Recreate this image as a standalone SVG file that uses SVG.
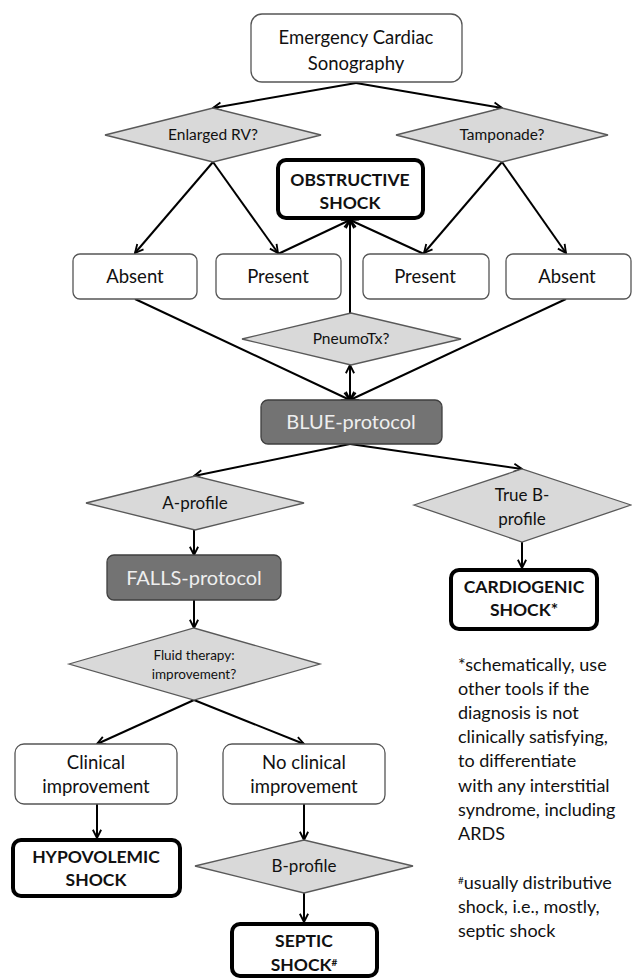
<svg xmlns="http://www.w3.org/2000/svg" width="632" height="980" viewBox="0 0 632 980">
<style>
text{font-family:Lato,"Open Sans","Noto Sans",sans-serif;text-anchor:middle;fill:#111}
.box{fill:#fff;stroke:#555;stroke-width:1.3}
.dia{fill:#d9d9d9;stroke:#595959;stroke-width:1.3}
.dark{fill:#737373;stroke:#3f3f3f;stroke-width:1.3}
.thick{fill:#fff;stroke:#000;stroke-width:4}
.t{font-size:18.5px}
.p{font-size:17px}
.d{font-size:15.5px}
.dt{font-size:20px;fill:#eeeeee}
.b{font-size:17.5px;font-weight:bold}
.note{font-size:18px;text-anchor:start}
.edge{stroke:#000;stroke-width:2;fill:none;marker-end:url(#ah)}
</style>
<defs>
<marker id="ah" viewBox="0 0 12 12" refX="11" refY="6" markerWidth="11" markerHeight="11" markerUnits="userSpaceOnUse" orient="auto-start-reverse">
<path d="M2,1.5 L11,6 L2,10.5" fill="none" stroke="#000" stroke-width="2"/>
</marker>
</defs>
<rect width="632" height="980" fill="#fff"/>
<g id="connectors">
<line class="edge" x1="356" y1="83" x2="213" y2="108"/>
<line class="edge" x1="356" y1="83" x2="502" y2="108"/>
<line class="edge" x1="213" y1="162" x2="135" y2="253"/>
<line class="edge" x1="213" y1="162" x2="278" y2="253"/>
<line class="edge" x1="502" y1="162" x2="424" y2="253"/>
<line class="edge" x1="502" y1="162" x2="566" y2="253"/>
<line class="edge" x1="278" y1="254" x2="350" y2="220"/>
<line class="edge" x1="424" y1="254" x2="350" y2="220"/>
<line class="edge" x1="350" y1="313" x2="350" y2="220"/>
<line class="edge" x1="135" y1="299" x2="350" y2="400"/>
<line class="edge" x1="566" y1="299" x2="350" y2="400"/>
<line class="edge" x1="350" y1="400" x2="350" y2="365" style="marker-start:url(#ah)"/>
<line class="edge" x1="350" y1="444" x2="194" y2="476"/>
<line class="edge" x1="350" y1="444" x2="522" y2="469"/>
<line class="edge" x1="194" y1="530" x2="194" y2="555"/>
<line class="edge" x1="522" y1="542" x2="522" y2="568"/>
<line class="edge" x1="194" y1="600" x2="194" y2="628"/>
<line class="edge" x1="194" y1="700" x2="97" y2="744"/>
<line class="edge" x1="194" y1="700" x2="304" y2="744"/>
<line class="edge" x1="97" y1="804" x2="97" y2="838"/>
<line class="edge" x1="304" y1="804" x2="304" y2="840"/>
<line class="edge" x1="304" y1="893" x2="304" y2="922"/>
</g>
<g id="ecs">
<rect class="box" x="251" y="14" width="211" height="68" rx="11"/>
<text class="t" x="356" y="44">Emergency Cardiac</text>
<text class="t" x="356" y="70">Sonography</text>
</g>
<g id="enlarged-rv">
<polygon class="dia" points="105,135 213,108 321,135 213,162"/>
<text class="d" x="213" y="140">Enlarged RV?</text>
</g>
<g id="tamponade">
<polygon class="dia" points="396,135 502,108 608,135 502,162"/>
<text class="d" x="502" y="140">Tamponade?</text>
</g>
<g id="obstructive">
<rect class="thick" x="278" y="160" width="145" height="58" rx="8"/>
<text class="b" x="350" y="186">OBSTRUCTIVE</text>
<text class="b" x="350" y="209">SHOCK</text>
</g>
<g id="absent1">
<rect class="box" x="73" y="254" width="124" height="45" rx="7"/>
<text class="t" x="135" y="283">Absent</text>
</g>
<g id="present1">
<rect class="box" x="216" y="254" width="125" height="45" rx="7"/>
<text class="t" x="278" y="283">Present</text>
</g>
<g id="present2">
<rect class="box" x="363" y="254" width="126" height="45" rx="7"/>
<text class="t" x="425" y="283">Present</text>
</g>
<g id="absent2">
<rect class="box" x="506" y="254" width="125" height="45" rx="7"/>
<text class="t" x="567" y="283">Absent</text>
</g>
<g id="pneumotx">
<polygon class="dia" points="242,339 351,313 461,339 351,365"/>
<text class="d" x="351" y="344">PneumoTx?</text>
</g>
<g id="blue">
<rect class="dark" x="261" y="400" width="181" height="44" rx="7"/>
<text class="dt" x="351" y="429">BLUE-protocol</text>
</g>
<g id="a-profile">
<polygon class="dia" points="86,503 195,476 304,503 195,530"/>
<text class="p" x="195" y="509">A-profile</text>
</g>
<g id="true-b">
<polygon class="dia" points="414,505 522,469 631,505 522,542"/>
<text class="p" x="522" y="501">True B-</text>
<text class="p" x="522" y="525">profile</text>
</g>
<g id="falls">
<rect class="dark" x="107" y="555" width="174" height="45" rx="7"/>
<text class="dt" x="194" y="585">FALLS-protocol</text>
</g>
<g id="cardiogenic">
<rect class="thick" x="451" y="570" width="146" height="59" rx="8"/>
<text class="b" x="524" y="593">CARDIOGENIC</text>
<text class="b" x="524" y="616">SHOCK*</text>
</g>
<g id="fluid">
<polygon class="dia" points="69,664 194,628 320,664 194,700"/>
<text x="194" y="660" style="font-size:13.5px">Fluid therapy:</text>
<text x="194" y="679" style="font-size:13.5px">improvement?</text>
</g>
<g id="clinical">
<rect class="box" x="15" y="744" width="162" height="60" rx="9"/>
<text class="t" x="96" y="769">Clinical</text>
<text class="t" x="96" y="793">improvement</text>
</g>
<g id="no-clinical">
<rect class="box" x="223" y="744" width="162" height="60" rx="9"/>
<text class="t" x="304" y="769">No clinical</text>
<text class="t" x="304" y="793">improvement</text>
</g>
<g id="hypovolemic">
<rect class="thick" x="13" y="840" width="167" height="56" rx="8"/>
<text class="b" x="96" y="863">HYPOVOLEMIC</text>
<text class="b" x="96" y="886">SHOCK</text>
</g>
<g id="b-profile">
<polygon class="dia" points="195,866 304,840 413,866 304,893"/>
<text class="p" x="304" y="872">B-profile</text>
</g>
<g id="septic">
<rect class="thick" x="232" y="924" width="145" height="52" rx="8"/>
<text class="b" x="304" y="947">SEPTIC</text>
<text class="b" x="304" y="971">SHOCK<tspan dy="-5" style="font-size:10px">#</tspan></text>
</g>
<g id="notes">
<text class="note" x="458" y="671">*schematically, use</text>
<text class="note" x="458" y="695">other tools if the</text>
<text class="note" x="458" y="719">diagnosis is not</text>
<text class="note" x="458" y="743">clinically satisfying,</text>
<text class="note" x="458" y="767">to differentiate</text>
<text class="note" x="458" y="792">with any interstitial</text>
<text class="note" x="458" y="816">syndrome, including</text>
<text class="note" x="458" y="840">ARDS</text>
<text class="note" x="458" y="889"><tspan dy="-5" style="font-size:10px">#</tspan><tspan dy="5">usually distributive</tspan></text>
<text class="note" x="458" y="913">shock, i.e., mostly,</text>
<text class="note" x="458" y="937">septic shock</text>
</g>
</svg>
